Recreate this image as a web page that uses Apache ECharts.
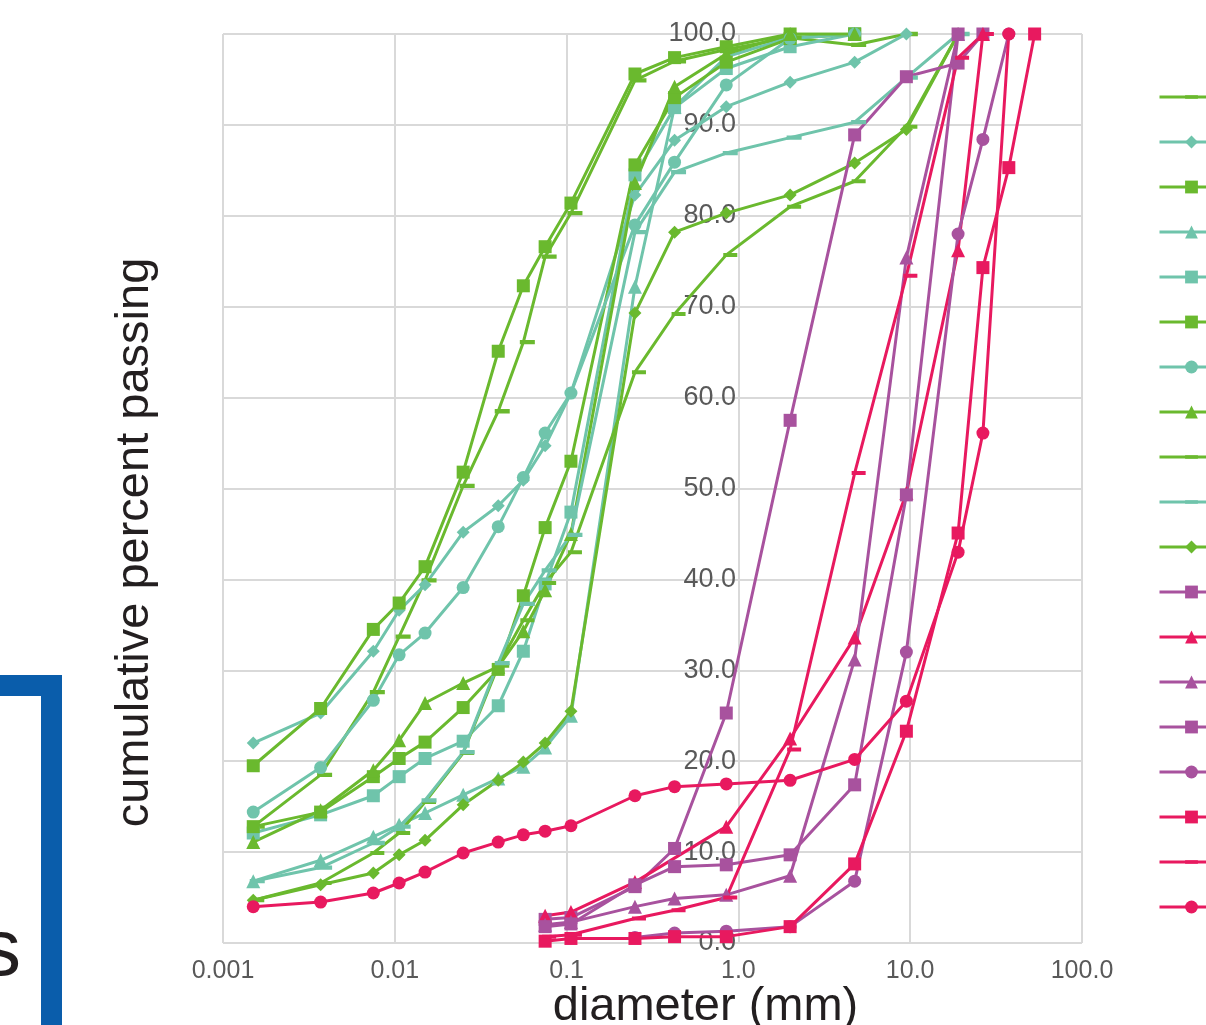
<!DOCTYPE html>
<html><head><meta charset="utf-8">
<script src="https://cdn.jsdelivr.net/npm/echarts@6/dist/echarts.min.js"></script>
<style>html,body{margin:0;padding:0;background:#fff;overflow:hidden}#c{width:1206px;height:1025px}</style>
</head><body><div id="c"></div>
<script>
// particle sizes (mm)
const sizes = [0.0015,0.0037,0.0075,0.0106,0.015,0.025,0.040,0.056,0.075,0.106,0.25,0.425,0.85,2.0,4.75,9.5,19,26.5,37.5,53];
const N = null;
const s1  = [12.8,18.5,27.6,33.7,39.9,50.3,58.5,66.1,75.5,80.3,94.9,97.0,98.3,99.6,98.8,100,N,N,N,N];
const s2  = [22.0,25.3,32.1,36.6,39.4,45.2,48.1,50.9,54.7,60.5,82.3,88.3,92.0,94.7,96.9,100,N,N,N,N];
const s3  = [19.5,25.8,34.5,37.4,41.4,51.8,65.1,72.3,76.6,81.4,95.6,97.4,98.6,100,100,N,N,N,N,N];
const s4  = [6.8,9.1,11.7,13.0,14.3,16.3,18.1,19.4,21.5,25.0,72.2,92.0,97.5,99.6,100,N,N,N,N,N];
const s5  = [12.1,14.1,16.2,18.3,20.3,22.2,26.1,32.1,39.5,47.4,84.5,91.9,96.2,98.6,100,N,N,N,N,N];
const s6  = [12.8,14.4,18.3,20.3,22.1,25.9,30.1,38.2,45.7,53.0,85.6,93.0,96.9,99.5,100,N,N,N,N,N];
const s7  = [14.4,19.3,26.7,31.7,34.1,39.1,45.8,51.2,56.1,60.5,79.0,85.9,94.4,99.5,100,N,N,N,N,N];
const s8  = [11.1,14.6,19.0,22.3,26.4,28.6,30.4,34.3,38.8,45.0,83.6,94.2,97.8,100,100,N,N,N,N,N];
const s9  = [4.7,6.6,9.9,12.1,15.5,20.9,30.5,35.5,39.6,43.0,62.8,69.2,75.7,81.0,83.8,89.8,100,N,N,N];
const s10 = [6.8,8.3,11.0,12.8,15.7,21.0,30.8,37.3,41.0,44.9,78.2,84.8,86.9,88.6,90.3,95.2,100,N,N,N];
const s11 = [4.7,6.4,7.7,9.7,11.3,15.2,17.9,19.9,22.0,25.5,69.3,78.2,80.3,82.3,85.8,89.5,100,N,N,N];
const s12 = [N,N,N,N,N,N,N,N,2.6,2.8,6.2,10.4,25.3,57.5,88.9,95.3,96.8,100,N,N];
const s13 = [N,N,N,N,N,N,N,N,3.0,3.4,6.7,N,12.8,22.5,33.6,49.5,76.2,100,N,N];
const s14 = [N,N,N,N,N,N,N,N,2.0,2.3,4.0,4.9,5.3,7.4,31.2,75.4,100,N,N,N];
const s15 = [N,N,N,N,N,N,N,N,1.8,2.1,6.4,8.4,8.6,9.7,17.4,49.3,100,N,N,N];
const s16 = [N,N,N,N,N,N,N,N,N,N,0.6,1.1,1.3,1.8,6.8,32.0,78.0,88.4,100,N];
const s17 = [N,N,N,N,N,N,N,N,0.2,0.5,0.5,0.7,0.7,1.8,8.7,23.3,45.1,74.3,85.3,100];
const s18 = [N,N,N,N,N,N,N,N,0.7,0.9,2.7,3.6,5.0,21.3,51.7,73.4,97.4,100,N,N];
const s19 = [4.0,4.5,5.5,6.6,7.8,9.9,11.1,11.9,12.3,12.9,16.2,17.2,17.5,17.9,20.2,26.6,43.0,56.1,100,N];
const seriesNames = ['Sample 1','Sample 2','Sample 3','Sample 4','Sample 5','Sample 6','Sample 7','Sample 8','Sample 9','Sample 10','Sample 11','Sample 12','Sample 13','Sample 14','Sample 15','Sample 16','Sample 17','Sample 18','Sample 19'];
const yTicks = [0,10,20,30,40,50,60,70,80,90,100];

const G='#6AB92E', T='#6FC4AB', P='#A8529E', K='#E8195F';
const DASH='path://M0,0L0.05,0L0,0.05Z M0,5H14V9H0Z M14,14L13.95,14L14,13.95Z';
const styles = [
  [G,DASH,15],[T,'diamond',13],[G,'rect',13],[T,'triangle',14],[T,'rect',13],[G,'rect',13],
  [T,'circle',13],[G,'triangle',14],[G,DASH,14],[T,DASH,15],[G,'diamond',13],[P,'rect',13],
  [K,'triangle',14],[P,'triangle',14],[P,'rect',13],[P,'circle',13],[K,'rect',13],[K,DASH,14],[K,'circle',13]
];
const allData = [s1,s2,s3,s4,s5,s6,s7,s8,s9,s10,s11,s12,s13,s14,s15,s16,s17,s18,s19];

const series = allData.map((arr,i)=>{
  const st = styles[i];
  return {
    name: seriesNames[i], type:'line', xAxisIndex:0, yAxisIndex:0,
    data: sizes.map((x,j)=>arr[j]==null?null:[x,arr[j]]).filter(d=>d),
    symbol: st[1], symbolSize: st[2], showAllSymbol:true,
    symbolOffset: st[1]===DASH ? [4,0] : [0,0],
    lineStyle:{color:st[0], width:3}, itemStyle:{color:st[0]},
    emphasis:{disabled:true}, animation:false
  };
});

const chart = echarts.init(document.getElementById('c'), null, {renderer:'canvas', width:1206, height:1025});
const FONT = '"Liberation Sans", Arial, sans-serif';
chart.setOption({
  animation:false,
  backgroundColor:'#fff',
  grid:{left:223, right:124, top:34, bottom:82, containLabel:false, outerBoundsMode:'none'},
  legend:{
    orient:'vertical', left:1158, top:89, padding:0, itemWidth:64, itemHeight:16, itemGap:29,
    lineStyle:{width:3},
    textStyle:{fontSize:16, lineHeight:16, color:'#595959', fontFamily:FONT}, selectedMode:false,
    data: seriesNames
  },
  xAxis:{
    type:'log', logBase:10, min:0.001, max:100,
    name:'diameter (mm)', nameLocation:'middle', nameGap:41, nameMoveOverlap:false,
    nameTextStyle:{fontSize:47, color:'#231F20', fontFamily:FONT, padding:[0,0,0,106]},
    axisLine:{show:false, onZero:false}, axisTick:{show:false},
    axisLabel:{fontSize:25, color:'#595959', margin:16, fontFamily:FONT,
      formatter:v=> v>=1 ? (+v.toPrecision(3)).toFixed(1) : String(+v.toPrecision(3))},
    splitLine:{show:true, lineStyle:{color:'#D9D9D9', width:2}},
    minorTick:{show:false}
  },
  yAxis:[{
    type:'value', min:0, max:100, interval:10, position:'left',
    name:'cumulative percent passing', nameLocation:'middle', nameGap:64, nameRotate:90, nameMoveOverlap:false,
    nameTextStyle:{fontSize:47, color:'#231F20', fontFamily:FONT, padding:[0,108,0,0]},
    axisLine:{show:false, onZero:false}, axisTick:{show:false}, axisLabel:{show:false},
    splitLine:{show:true, lineStyle:{color:'#D9D9D9', width:2}}
  },{
    type:'value', min:0, max:100, interval:10, position:'left', offset:-515,
    axisLine:{show:false, onZero:false}, axisTick:{show:false},
    axisLabel:{show:true, fontSize:27, color:'#595959', margin:2, fontFamily:FONT,
      formatter:v=>v.toFixed(1)},
    splitLine:{show:false}
  }],
  series: series,
  graphic:[
    {type:'rect', shape:{x:0,y:675,width:62,height:21}, style:{fill:'#0A5DAB'}, silent:true},
    {type:'rect', shape:{x:41,y:675,width:21,height:360}, style:{fill:'#0A5DAB'}, silent:true},
    {type:'text', x:-19, y:953, style:{text:'s', font:'80px "Liberation Sans", Arial, sans-serif', fill:'#231F20', verticalAlign:'middle', align:'left'}, silent:true}
  ]
});
</script></body></html>
